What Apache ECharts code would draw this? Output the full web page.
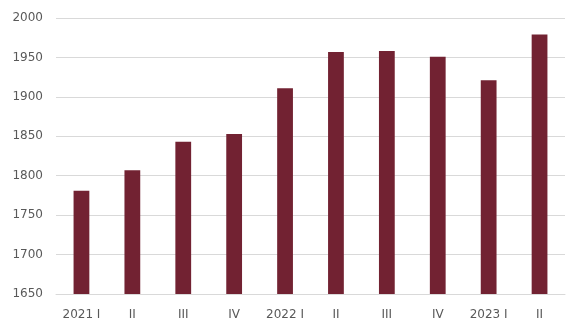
<!DOCTYPE html>
<html>
<head>
<meta charset="utf-8">
<script src="https://cdn.jsdelivr.net/npm/echarts@6/dist/echarts.min.js"></script>
<style>html,body{margin:0;padding:0;background:#fff}#c{width:575px;height:333px}</style>
</head>
<body>
<div id="c"></div>
<script>
const categories = ['2021 I', 'II', 'III', 'IV', '2022 I', 'II', 'III', 'IV', '2023 I', 'II'];
const values = [1781, 1807, 1843, 1853, 1911, 1957, 1958, 1951, 1921, 1979];
const yTicks = { min: 1650, max: 2000, interval: 50 };

const chart = echarts.init(document.getElementById('c'), null, { renderer: 'canvas' });
chart.setOption({
  animation: false,
  grid: { left: 56, right: 10, top: 18, bottom: 39, containLabel: false },
  xAxis: {
    type: 'category',
    data: categories,
    axisLine: { show: true, lineStyle: { color: '#d9d9d9', width: 1 } },
    axisTick: { show: false },
    axisLabel: { color: '#595959', fontSize: 12, fontFamily: 'DejaVu Sans', margin: 15 }
  },
  yAxis: {
    type: 'value',
    min: yTicks.min, max: yTicks.max, interval: yTicks.interval,
    axisLine: { show: false },
    axisTick: { show: false },
    splitLine: { lineStyle: { color: '#d9d9d9', width: 1 } },
    axisLabel: { color: '#595959', fontSize: 12, fontFamily: 'DejaVu Sans', margin: 13, formatter: v => String(v) }
  },
  series: [{
    type: 'bar',
    data: values,
    barWidth: '31%',
    itemStyle: { color: '#722232' }
  }]
});
</script>
</body>
</html>
